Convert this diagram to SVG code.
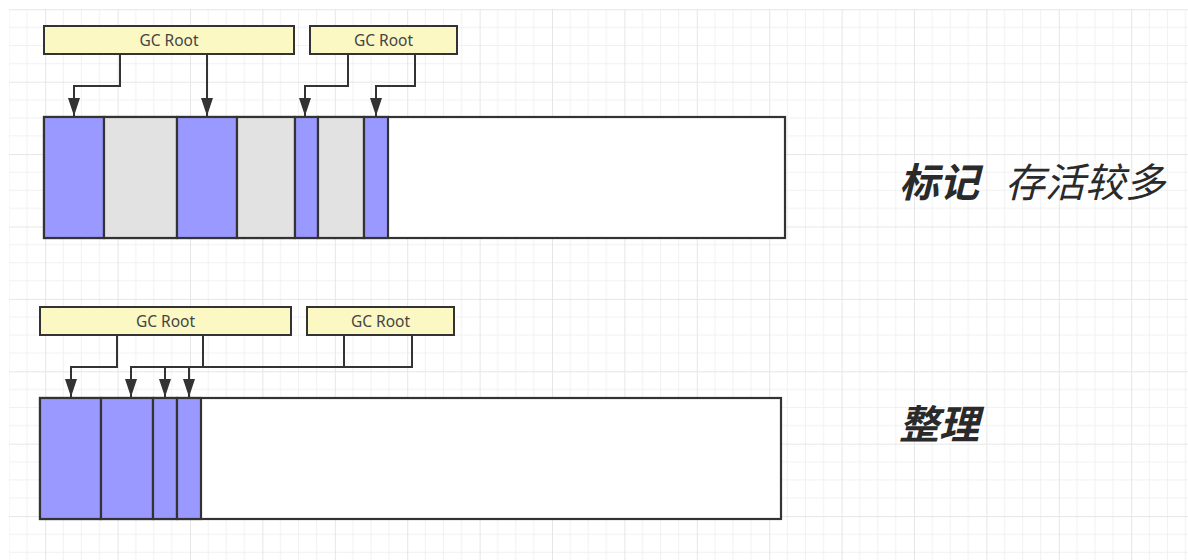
<svg xmlns="http://www.w3.org/2000/svg" width="1188" height="560" viewBox="0 0 1188 560">
  <defs>
    <pattern id="grid" patternUnits="userSpaceOnUse" x="45.2" y="9.3" width="72.4" height="72.4">
      <path d="M18.1,0 V72.4 M36.2,0 V72.4 M54.3,0 V72.4 M0,18.1 H72.4 M0,36.2 H72.4 M0,54.3 H72.4" stroke="#f1f1f1" stroke-width="1" fill="none"/>
      <path d="M0.5,0 V72.4 M0,0.5 H72.4" stroke="#e6e6e6" stroke-width="1" fill="none"/>
    </pattern>
    <marker id="arr" viewBox="0 0 12 18" refX="6" refY="18" markerWidth="12" markerHeight="18" orient="0" markerUnits="userSpaceOnUse">
      <path d="M0,0 L12,0 L6,18 Z" fill="#333333"/>
    </marker>
    <style>
      .root rect { fill: #fbf8c4; stroke: #333333; stroke-width: 2; }
      .root text { font-family: "Noto Sans", "Liberation Sans", sans-serif; font-size: 15.5px; fill: #444444; text-anchor: middle; }
      .live { fill: #9999ff; stroke: #333333; stroke-width: 2.2; }
      .dead { fill: #e2e2e2; stroke: #333333; stroke-width: 2.2; }
      .free { fill: #ffffff; stroke: #333333; stroke-width: 2.2; }
      .conn path { fill: none; stroke: #333333; stroke-width: 2; }
      .label { font-family: "Noto Sans CJK SC", sans-serif; font-size: 40px; fill: #2a2a2a; font-style: italic; }
    </style>
  </defs>

  <rect x="0" y="0" width="1188" height="560" fill="#ffffff"/>
  <rect x="9" y="9" width="1179" height="551" fill="url(#grid)"/>

  <!-- Top: mark phase -->
  <g id="top-root-1" class="root">
    <rect x="44" y="26" width="250" height="28"/>
    <text x="169" y="45.5">GC Root</text>
  </g>
  <g id="top-root-2" class="root">
    <rect x="310" y="26" width="147" height="28"/>
    <text x="383.5" y="45.5">GC Root</text>
  </g>

  <g id="top-heap">
    <rect class="free" x="44" y="117" width="741" height="121"/>
    <rect class="live" x="44" y="117" width="60" height="121"/>
    <rect class="dead" x="104" y="117" width="73" height="121"/>
    <rect class="live" x="177" y="117" width="60" height="121"/>
    <rect class="dead" x="237" y="117" width="58" height="121"/>
    <rect class="live" x="295" y="117" width="23" height="121"/>
    <rect class="dead" x="318" y="117" width="46" height="121"/>
    <rect class="live" x="364" y="117" width="24" height="121"/>
  </g>

  <!-- Bottom: compact phase -->
  <g id="bottom-root-1" class="root">
    <rect x="40" y="307" width="251" height="28"/>
    <text x="165.5" y="326.5">GC Root</text>
  </g>
  <g id="bottom-root-2" class="root">
    <rect x="307" y="307" width="147" height="28"/>
    <text x="380.5" y="326.5">GC Root</text>
  </g>

  <g id="bottom-heap">
    <rect class="free" x="40" y="398" width="741" height="121"/>
    <rect class="live" x="40" y="398" width="61" height="121"/>
    <rect class="live" x="101" y="398" width="52" height="121"/>
    <rect class="live" x="153" y="398" width="24" height="121"/>
    <rect class="live" x="177" y="398" width="24" height="121"/>
  </g>

  <g id="connectors" class="conn">
    <path d="M120,54 V86 H74 V116" marker-end="url(#arr)"/>
    <path d="M207,54 V116" marker-end="url(#arr)"/>
    <path d="M348,54 V86 H305 V116" marker-end="url(#arr)"/>
    <path d="M415,54 V86 H376 V116" marker-end="url(#arr)"/>

    <path d="M117,335 V367 H71 V397" marker-end="url(#arr)"/>
    <path d="M203,335 V367 H131 V397" marker-end="url(#arr)"/>
    <path d="M344,335 V367 H165 V397" marker-end="url(#arr)"/>
    <path d="M412,335 V367 H189 V397" marker-end="url(#arr)"/>
  </g>

  <g id="label-mark">
    <text class="label" x="899" y="197" font-weight="bold">标记</text>
    <text class="label" x="1005" y="197">存活较多</text>
  </g>
  <g id="label-compact">
    <text class="label" x="899" y="439" font-weight="bold">整理</text>
  </g>
</svg>
